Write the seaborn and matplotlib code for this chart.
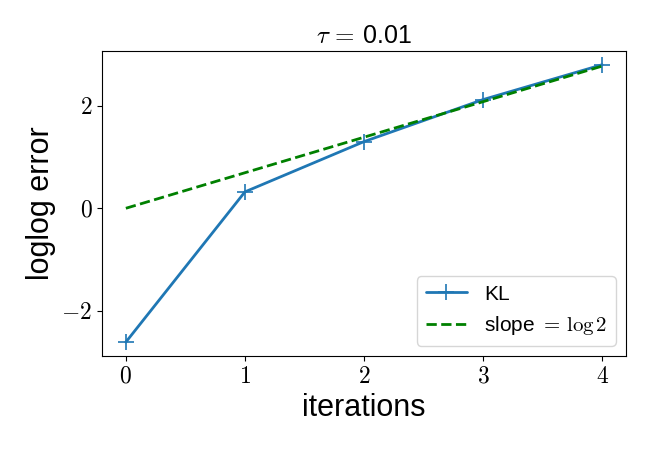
import matplotlib
matplotlib.use("Agg")
import matplotlib.pyplot as plt
import seaborn as sns
import pandas as pd

iterations = [0, 1, 2, 3, 4]
kl_error = [-2.61, 0.32, 1.30, 2.12, 2.80]
slope_ref = [0.0, 0.693, 1.386, 2.079, 2.773]
xticks = [0, 1, 2, 3, 4]
yticks = [-2, 0, 2]

sns.set_style("ticks")
plt.rcParams['font.family'] = ['Liberation Sans', 'DejaVu Sans']
plt.rcParams['mathtext.fontset'] = 'cm'
for k in ['text.color', 'axes.labelcolor', 'xtick.color', 'ytick.color', 'axes.edgecolor']:
    plt.rcParams[k] = 'black'

fig, ax = plt.subplots(figsize=(6.5, 4.5), dpi=100)
fig.subplots_adjust(left=0.157, right=0.963, top=0.887, bottom=0.209)

df = pd.DataFrame({"it": iterations, "kl": kl_error, "ref": slope_ref})
sns.lineplot(data=df, x="it", y="kl", ax=ax, color="#1f77b4", lw=2,
             marker="+", markersize=11, markeredgewidth=1.2,
             markeredgecolor="#1f77b4", label="KL")
sns.lineplot(data=df, x="it", y="ref", ax=ax, color="green", lw=2,
             linestyle="--", label=r"slope $=\,\log 2$")

ax.set_xticks(xticks)
ax.set_xticklabels([f"${t}$" for t in xticks])
ax.set_yticks(yticks)
ax.set_yticklabels([f"${t}$" for t in yticks])
ax.tick_params(labelsize=17)
for s in ax.spines.values():
    s.set_linewidth(0.8)
ax.set_xlabel("iterations", fontsize=22)
ax.set_ylabel("loglog error", fontsize=22)
ax.set_title(r"$\tau\,=\,$0.01", fontsize=18)
ax.legend(loc="lower right", fontsize=15)

fig.savefig("out.png", dpi=100)
